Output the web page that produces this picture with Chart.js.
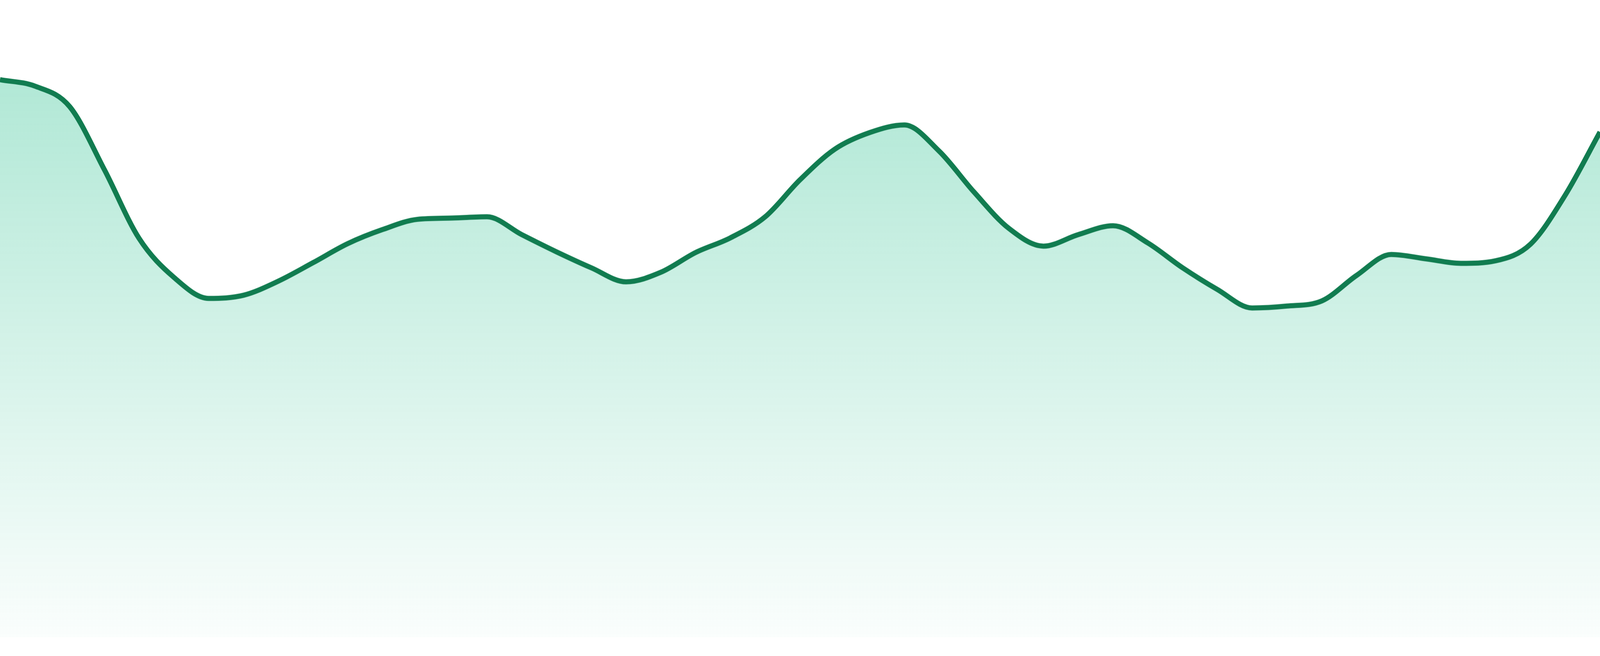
<!DOCTYPE html>
<html>
<head>
<meta charset="utf-8">
<script src="https://cdn.jsdelivr.net/npm/chart.js@4.4.1/dist/chart.umd.min.js"></script>
<style>
  html, body { margin: 0; padding: 0; background: #ffffff; overflow: hidden; }
  #wrap { position: relative; width: 100vw; height: 97.14vh; }
</style>
</head>
<body>
<div id="wrap"><canvas id="areaChart"></canvas></div>
<script>
// Data (47 evenly spaced samples)
const labels = [];
for (let i = 1; i <= 47; i++) labels.push('P' + i);

const values = [
    87.5, 86.5, 83.3, 73.4, 62.6, 56.5, 53.2, 53.7, 55.9, 58.8,
    61.8, 64.0, 65.6, 65.8, 66.0, 63.2, 60.5, 58.0, 55.8, 57.3,
    60.4, 62.7, 66.0, 71.8, 76.6, 79.2, 80.4, 76.3, 69.9, 64.2,
    61.4, 63.2, 64.6, 61.9, 58.0, 54.6, 51.7, 52.0, 52.8, 56.8,
    60.1, 59.4, 58.7, 59.1, 61.7, 69.4, 79.3
];

const lineColor = '#117c50';

// vertical fade under the line
function areaGradient(context) {
    const chart = context.chart;
    const area = chart.chartArea;
    if (!area) return 'rgba(16, 185, 129, 0.2)';
    const g = chart.ctx.createLinearGradient(0, area.top, 0, area.bottom);
    g.addColorStop(0, 'rgba(16, 185, 129, 0.37)');
    g.addColorStop(1, 'rgba(16, 185, 129, 0.02)');
    return g;
}

const config = {
    type: 'line',
    data: {
        labels: labels,
        datasets: [{
            data: values,
            borderColor: lineColor,
            borderWidth: 13,
            backgroundColor: areaGradient,
            fill: 'start',
            pointRadius: 0,
            pointHoverRadius: 0,
            cubicInterpolationMode: 'monotone'
        }]
    },
    options: {
        responsive: true,
        maintainAspectRatio: false,
        animation: false,
        layout: { padding: 0, autoPadding: false },
        plugins: {
            legend: { display: false },
            tooltip: { enabled: false }
        },
        scales: {
            x: { display: false, offset: false },
            y: { display: false, min: 0, max: 100 }
        }
    }
};

const ctx = document.getElementById('areaChart').getContext('2d');
const areaChart = new Chart(ctx, config);
</script>
</body>
</html>
